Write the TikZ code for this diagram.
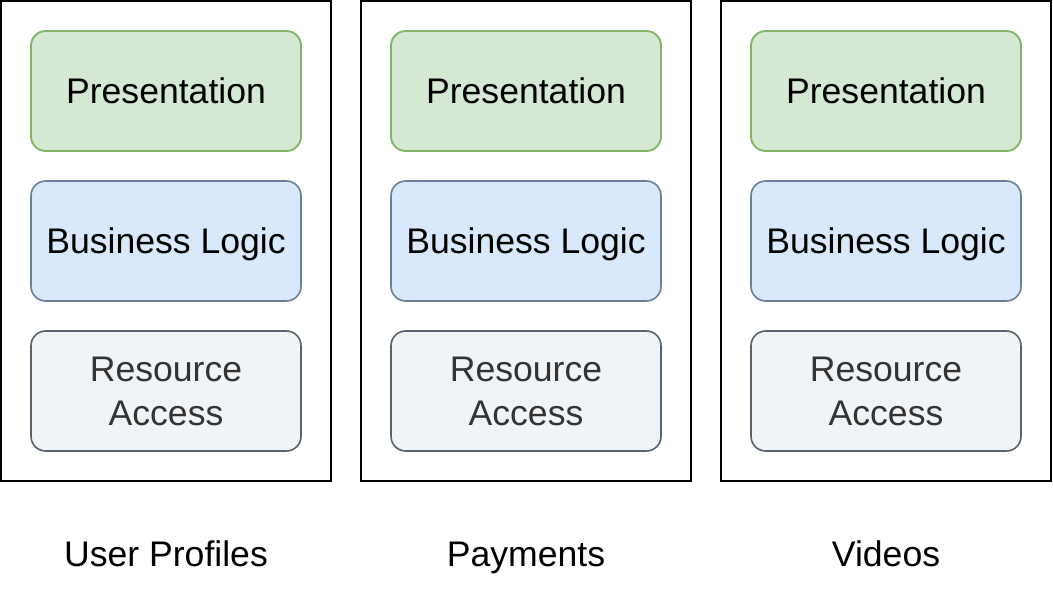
\documentclass[tikz,border=0pt]{standalone}
\usepackage{fontspec}
\setmainfont{Liberation Sans}
\definecolor{gfill}{HTML}{D5E8D4}
\definecolor{gdraw}{HTML}{82B366}
\definecolor{bfill}{HTML}{DAE8FC}
\definecolor{bdraw}{HTML}{6C7F9A}
\definecolor{rfill}{HTML}{F1F4F6}
\definecolor{rdraw}{HTML}{58636E}
\definecolor{rtext}{HTML}{333333}
\begin{document}
\begin{tikzpicture}[x=0.75pt,y=-0.75pt,
  outer/.style={draw=black,line width=2pt,fill=white},
  layer/.style={rounded corners=11pt,line width=1.4pt,minimum width=202.5pt,minimum height=90pt,inner sep=0pt,align=center,font=\fontsize{26.7}{33}\selectfont},
  oneline/.style={text height=19.3pt,text depth=0pt},
  pres/.style={layer,oneline,draw=gdraw,fill=gfill},
  biz/.style={layer,oneline,draw=bdraw,fill=bfill,line width=1.2pt},
  res/.style={layer,draw=rdraw,fill=rfill,text=rtext,line width=1.2pt},
  caption/.style={inner sep=0pt,oneline,font=\fontsize{26.7}{33}\selectfont}]
\useasboundingbox (0,0) rectangle (1053,603);
\fill[white] (0,0) rectangle (1053,603);
\foreach \i/\cx/\lab in {1/166/User Profiles,2/526/Payments,3/886/Videos}{
  \node[outer,minimum width=247.5pt,minimum height=360pt,inner sep=0pt] (box\i) at (\cx,241) {};
  \node[pres] (p\i) at (\cx,91) {Presentation};
  \node[biz] (b\i) at (\cx,241) {Business Logic};
  \node[res] (r\i) at (\cx,391) {Resource\\Access};
  \node[caption] (c\i) at (\cx,554) {\lab};
}
\end{tikzpicture}
\end{document}
